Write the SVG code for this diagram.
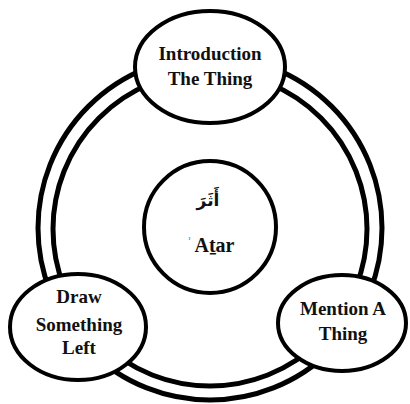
<svg xmlns="http://www.w3.org/2000/svg" width="410" height="404" viewBox="0 0 410 404">
<style>
.ring{fill:none;stroke:#000;stroke-width:5}
.node{fill:#fff;stroke:#000;stroke-width:4}
.t{font-family:'Liberation Serif','Times New Roman',Tinos,'DejaVu Serif',serif;font-weight:700;font-size:19px;fill:#111;text-anchor:middle}
.ar{font-family:"DejaVu Sans",sans-serif;font-weight:bold;font-size:17px;fill:#111;text-anchor:middle}
</style>
<rect width="410" height="404" fill="#fff"/>
<g id="connectors">
<circle class="ring" cx="210" cy="228" r="172"/>
<circle class="ring" cx="210" cy="229" r="157"/>
</g>
<g id="center">
<circle class="node" cx="210" cy="227" r="66"/>
<text class="ar" x="208" y="206">أَثَرَ</text>
<text class="t" x="211" y="252"><tspan font-size="12" dy="-6">ʾ</tspan><tspan dx="3" dy="6" font-size="20">Aṯar</tspan></text>
</g>
<g id="top">
<ellipse class="node" cx="210" cy="67" rx="75" ry="56"/>
<text class="t" x="210" y="60">Introduction</text>
<text class="t" x="210" y="85">The Thing</text>
</g>
<g id="left">
<ellipse class="node" cx="78" cy="327" rx="68" ry="53"/>
<text class="t" x="79" y="303">Draw</text>
<text class="t" x="79" y="331">Something</text>
<text class="t" x="79" y="354">Left</text>
</g>
<g id="right">
<ellipse class="node" cx="342" cy="323" rx="64" ry="48"/>
<text class="t" x="343" y="315">Mention A</text>
<text class="t" x="343" y="340">Thing</text>
</g>
</svg>
